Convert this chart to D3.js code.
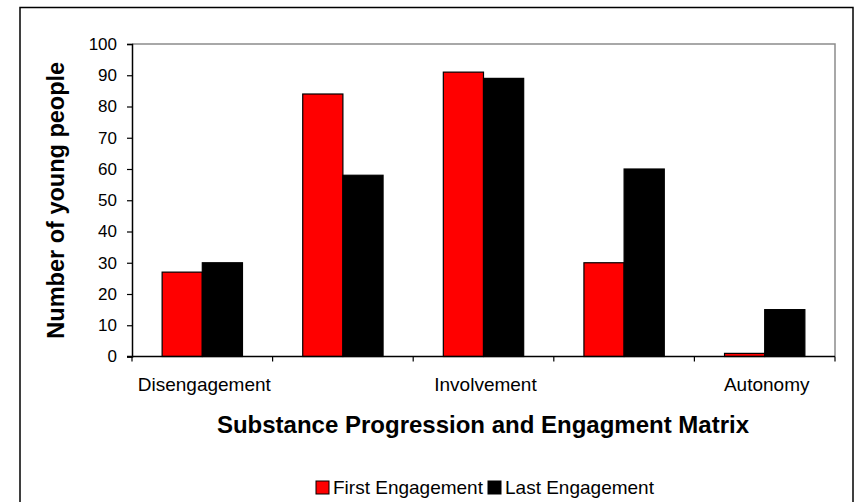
<!DOCTYPE html>
<html>
<head>
<meta charset="utf-8">
<script src="https://cdn.jsdelivr.net/npm/d3@7"></script>
<style>
  html, body { margin: 0; padding: 0; background: #fff; }
  svg { display: block; font-family: "Liberation Sans", Arial, sans-serif; }
</style>
</head>
<body>
<svg id="chart" width="854" height="502"></svg>
<script>
const categories = ["Disengagement", "", "Involvement", "", "Autonomy"];
const series = ["First Engagement", "Last Engagement"];
const firstEngagement = [27, 84, 91, 30, 1];
const lastEngagement = [30, 58, 89, 60, 15];
const seriesColors = ["#ff0000", "#000000"];
const yTicks = [0, 10, 20, 30, 40, 50, 60, 70, 80, 90, 100];
const yTitle = "Number of young people";
const xTitle = "Substance Progression and Engagment Matrix";

(function () {
const values = [firstEngagement, lastEngagement];
const svg = d3.select("#chart");

// outer frame
svg.append("rect").attr("x", 20).attr("y", 7.5).attr("width", 833).attr("height", 520)
  .attr("fill", "none").attr("stroke", "#000").attr("stroke-width", 1.5);

const pL = 132, pR = 835, pT = 44, pB = 356.5;
const x0 = d3.scaleBand().domain(d3.range(categories.length)).range([pL, pR]).padding(0);
const x1 = d3.scaleBand().domain(d3.range(series.length)).range([0, x0.bandwidth()])
  .paddingInner(0).paddingOuter(0.75);
const y = d3.scaleLinear().domain([0, 100]).range([pB, pT]);

// plot border (top & right gray)
svg.append("path")
  .attr("d", `M${pL},${pT}H${pR}V${pB}`)
  .attr("fill", "none").attr("stroke", "#8c8c8c").attr("stroke-width", 1.5);

// bars
categories.forEach((c, i) => {
  series.forEach((s, j) => {
    const v = values[j][i];
    svg.append("rect")
      .attr("x", x0(i) + x1(j))
      .attr("y", y(v))
      .attr("width", x1.bandwidth())
      .attr("height", y(0) - y(v))
      .attr("fill", seriesColors[j])
      .attr("stroke", "#000").attr("stroke-width", 1.2);
  });
});

// y axis
const yAxis = d3.axisLeft(y).tickValues(yTicks).tickSize(5).tickPadding(10).tickFormat(d3.format("d"));
const yg = svg.append("g").attr("transform", `translate(${pL},0)`).call(yAxis);
yg.select(".domain").attr("stroke", "#000").attr("stroke-width", 1.5);
yg.selectAll(".tick line").attr("stroke", "#000").attr("stroke-width", 1.2);
yg.selectAll(".tick text").attr("font-size", 17).attr("fill", "#000")
  .attr("font-family", "Liberation Sans, Arial, sans-serif");

// x axis
const xg = svg.append("g");
xg.append("line").attr("x1", pL - 5).attr("x2", pR).attr("y1", pB).attr("y2", pB)
  .attr("stroke", "#000").attr("stroke-width", 1.5);
const boundaries = d3.range(categories.length).map(i => x0(i)).concat([pR]);
xg.selectAll(".xt").data(boundaries).enter().append("line")
  .attr("x1", d => d).attr("x2", d => d).attr("y1", pB).attr("y2", pB + 5)
  .attr("stroke", "#000").attr("stroke-width", 1.2);
xg.selectAll(".xl").data(categories).enter().append("text")
  .attr("x", (d, i) => x0(i) + x0.bandwidth() / 2 + 2)
  .attr("y", 391)
  .attr("text-anchor", "middle").attr("font-size", 19).attr("fill", "#000")
  .text(d => d);

// axis titles
svg.append("text")
  .attr("transform", `translate(64,${(pT + pB) / 2}) rotate(-90)`)
  .attr("text-anchor", "middle").attr("font-size", 23.5).attr("font-weight", "bold")
  .text(yTitle);
svg.append("text")
  .attr("x", 483).attr("y", 433)
  .attr("text-anchor", "middle").attr("font-size", 24).attr("font-weight", "bold")
  .text(xTitle);

// legend
const legend = svg.append("g");
const legendItems = [
  { x: 316, label: series[0], color: seriesColors[0] },
  { x: 488, label: series[1], color: seriesColors[1] }
];
legendItems.forEach(it => {
  legend.append("rect").attr("x", it.x).attr("y", 481).attr("width", 13).attr("height", 13)
    .attr("fill", it.color).attr("stroke", "#000").attr("stroke-width", 1);
  legend.append("text").attr("x", it.x + 17).attr("y", 493.5)
    .attr("font-size", 19).attr("fill", "#000").text(it.label);
});
})();
</script>
</body>
</html>
